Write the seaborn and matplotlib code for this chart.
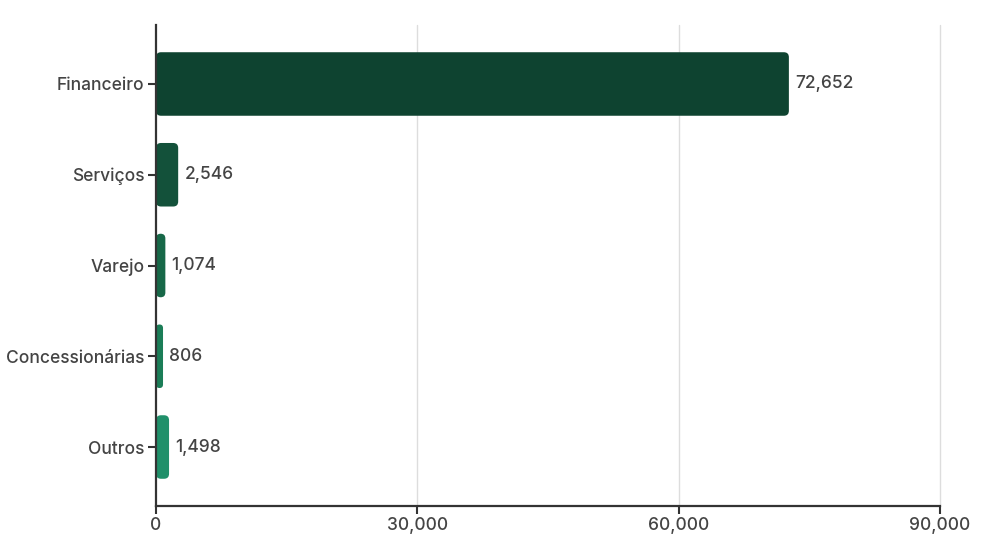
import matplotlib
matplotlib.use("Agg")
import matplotlib.pyplot as plt
import seaborn as sns
import pandas as pd
from matplotlib.patches import FancyBboxPatch
from matplotlib.ticker import FuncFormatter

categories = ["Financeiro", "Serviços", "Varejo", "Concessionárias", "Outros"]
values = [72652, 2546, 1074, 806, 1498]
colors = ["#0e4330", "#13513a", "#176848", "#1b7d57", "#20906a"]
xticks = [0, 30000, 60000, 90000]

sns.set_theme(style="white")
plt.rcParams["font.family"] = ["Inter", "DejaVu Sans"]
plt.rcParams["font.weight"] = "medium"

df = pd.DataFrame({"cat": categories, "val": values})

fig = plt.figure(figsize=(9.84, 5.44), dpi=100)
ax = fig.add_axes([156/984, 1-506/544, (940-156)/984, (506-25)/544])

sns.barplot(data=df, y="cat", x="val", hue="cat", palette=colors, legend=False,
            width=0.7, ax=ax, orient="h", saturation=1)

ax.set_xlim(0, 90000)
ax.set_ylim(4.5 + 0.15, -0.5 - 0.15)

# rounded corners
x_per_px = 90000 / (940-156)
y_per_px = 5.3 / (506-25)
for p in list(ax.patches):
    x0, y0 = p.get_x(), p.get_y()
    w, h = p.get_width(), p.get_height()
    fc = p.get_facecolor()
    p.remove()
    r = min(5 * x_per_px, w / 2)
    fb = FancyBboxPatch((x0, y0), w, h,
                        boxstyle=f"round,pad=0,rounding_size={r}",
                        mutation_aspect=y_per_px / x_per_px,
                        facecolor=fc, edgecolor="none", zorder=2)
    ax.add_patch(fb)

for i, v in enumerate(values):
    ax.annotate(f"{v:,}", xy=(v, i), xytext=(4.5, 0), textcoords="offset points",
                va="center", ha="left", fontsize=12.5, color="#444444",
                fontweight="medium")

ax.set_xticks(xticks)
ax.xaxis.set_major_formatter(FuncFormatter(lambda x, _: f"{int(x):,}"))
for xt in xticks[1:]:
    ax.axvline(xt, color="#dddddd", linewidth=1, zorder=0, clip_on=False)
ax.set_xlabel("")
ax.set_ylabel("")
for s in ["top", "right"]:
    ax.spines[s].set_visible(False)
for s in ["left", "bottom"]:
    ax.spines[s].set_color("#333333")
    ax.spines[s].set_linewidth(1.6)
    ax.spines[s].set_zorder(3)
ax.tick_params(axis="y", which="major", length=5.5, width=1.5, color="#333333",
               labelsize=12.5, labelcolor="#444444", pad=3, left=True)
ax.tick_params(axis="x", which="major", length=6, width=1.5, color="#333333",
               labelsize=12.5, labelcolor="#444444", pad=2, bottom=True)
for lab in ax.get_xticklabels() + ax.get_yticklabels():
    lab.set_fontweight("medium")

fig.savefig("out.png", dpi=100)
